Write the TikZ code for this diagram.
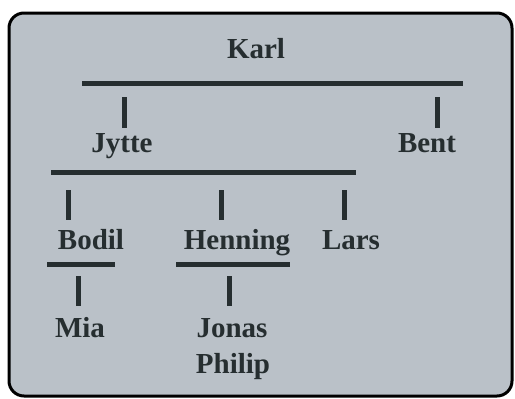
\documentclass[tikz,border=0pt]{standalone}
\usepackage{fontspec}
\setmainfont{Liberation Serif}
\definecolor{panel}{RGB}{186,193,200}
\definecolor{ink}{RGB}{38,46,48}
\begin{document}
\begin{tikzpicture}[x=1pt,y=-1pt,
  person/.style={anchor=base,inner sep=0pt,text=ink,font=\fontsize{29}{36}\selectfont\bfseries},
  bar/.style={draw=ink,line width=5pt},
  tick/.style={draw=ink,line width=5pt}]
\useasboundingbox (0,0) rectangle (515,399);
\draw[fill=panel,draw=black,line width=3pt,rounded corners=15pt] (9,13) rectangle (512,396);
% names
\node[person] (karl) at (256,58) {Karl};
\node[person] (jytte) at (122,152) {Jytte};
\node[person] (bent) at (427,152) {Bent};
\node[person] (bodil) at (91,249) {Bodil};
\node[person] (henning) at (237,249) {Henning};
\node[person] (lars) at (351,249) {Lars};
\node[person] (mia) at (80,337) {Mia};
\node[person] (jonas) at (232,337) {Jonas};
\node[person] (philip) at (233,373) {Philip};
% bars
\coordinate (b1l) at (82,83); \coordinate (b1r) at (463,83);
\coordinate (b2l) at (51,172); \coordinate (b2r) at (356,172);
\coordinate (b3l) at (47,264); \coordinate (b3r) at (115,264);
\coordinate (b4l) at (176,264); \coordinate (b4r) at (290,264);
\draw[bar] (b1l) -- (b1r);
\draw[bar] (b2l) -- (b2r);
\draw[bar] (b3l) -- (b3r);
\draw[bar] (b4l) -- (b4r);
% ticks
\coordinate (tj1) at (124,97); \coordinate (tj2) at (124,128);
\coordinate (tb1) at (437,97); \coordinate (tb2) at (437,128);
\coordinate (to1) at (68,190); \coordinate (to2) at (68,220);
\coordinate (th1) at (221,190); \coordinate (th2) at (221,220);
\coordinate (tl1) at (344,190); \coordinate (tl2) at (344,220);
\coordinate (tm1) at (78,276); \coordinate (tm2) at (78,306);
\coordinate (tn1) at (229,276); \coordinate (tn2) at (229,306);
\draw[tick] (tj1) -- (tj2);
\draw[tick] (tb1) -- (tb2);
\draw[tick] (to1) -- (to2);
\draw[tick] (th1) -- (th2);
\draw[tick] (tl1) -- (tl2);
\draw[tick] (tm1) -- (tm2);
\draw[tick] (tn1) -- (tn2);
\end{tikzpicture}
\end{document}
